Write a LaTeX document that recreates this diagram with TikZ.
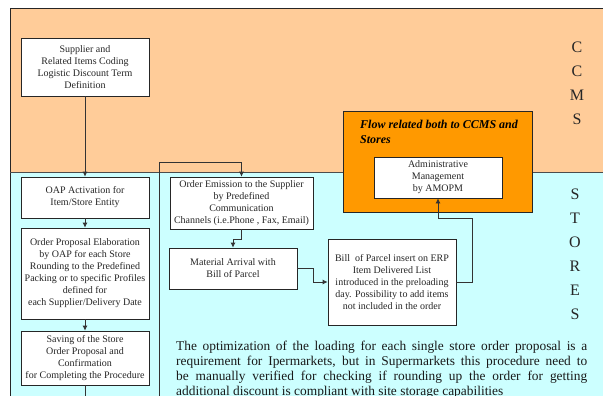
\documentclass[tikz,border=0pt]{standalone}
\usepackage{fontspec}
\setmainfont{Liberation Serif}
\usetikzlibrary{arrows.meta,calc}
\definecolor{ccmsband}{HTML}{FFCC99}
\definecolor{storeband}{HTML}{CCFFFF}
\definecolor{flowbox}{HTML}{FF9900}
\begin{document}
\begin{tikzpicture}[x=1pt,y=-1pt,
  stepbox/.style={draw=black!85,fill=white,line width=0.8pt,align=center,inner sep=1pt,
    minimum width=128pt,font=\fontsize{10}{12}\selectfont,text=black!85},
  link/.style={draw=black!80,line width=0.8pt,-{Latex[length=5pt,width=5pt]}},
  plain/.style={draw=black!80,line width=0.8pt},
  banner/.style={align=center,font=\fontsize{16}{24}\selectfont,text=black!85},
]
\useasboundingbox (0,0) rectangle (603,396);
\clip (0,0) rectangle (603,396);

% two swim lanes
\fill[ccmsband] (10,8) rectangle (620,172);
\fill[storeband] (10,172) rectangle (620,420);
\draw[line width=0.9pt,black!85] (10,420) -- (10,8) -- (620,8);
\draw[line width=0.9pt,black!70] (10,172) -- (620,172);

% lane titles
\node[banner] (ccms) at (577,83) {C\\C\\M\\S};
\node[banner] (stores) at (575,254.5) {S\\T\\O\\R\\E\\S};

% shared flow area
\node[draw=black!85,line width=0.9pt,fill=flowbox,minimum width=189pt,minimum height=101pt,inner sep=0pt]
  (flow) at (437.5,161.5) {};
\node[anchor=north west,align=left,inner sep=0pt,font=\fontsize{12}{15}\selectfont\bfseries\itshape]
  (flowtitle) at (360,119.5) {Flow related both to CCMS and\\Stores};

% process steps
\node[stepbox,minimum height=58pt] (sup) at (85,67)
  {Supplier and\\Related Items Coding\\Logistic Discount Term\\Definition};
\node[stepbox,minimum height=41pt] (oap) at (85,197.5)
  {OAP Activation for\\Item/Store Entity};
\node[stepbox,minimum height=91pt] (prop) at (85,273.5)
  {Order Proposal Elaboration\\by OAP for each Store\\Rounding to the Predefined\\Packing or to specific Profiles\\defined for\\each Supplier/Delivery Date};
\node[stepbox,minimum height=54pt] (save) at (85,358)
  {Saving of the Store\\Order Proposal and\\Confirmation\\for Completing the Procedure};
\node[stepbox,minimum width=143pt,minimum height=52pt] (emis) at (241.5,203)
  {Order Emission to the Supplier\\by Predefined\\Communication\\Channels (i.e.Phone , Fax, Email)};
\node[stepbox,minimum height=41pt] (mat) at (233,268.5)
  {Material Arrival with\\Bill of Parcel};
\node[stepbox,minimum height=86pt] (bill) at (392,282)
  {Bill\ \ of Parcel insert on ERP\\Item Delivered List\\introduced in the preloading\\day. Possibility to add items\\not included in the order};
\node[stepbox,minimum height=41pt] (admin) at (438,177.5)
  {Administrative\\Management\\by AMOPM};

% note
\node[anchor=north west,text width=411pt,align=justify,inner sep=0pt,
  font=\fontsize{13.4}{15}\selectfont,text=black!90] (note) at (176,340.5)
  {The optimization of the loading for each single store order proposal is a\linebreak
   requirement for Ipermarkets, but in Supermarkets this procedure need to\linebreak
   be manually verified for checking if rounding up the order for getting\linebreak
   additional discount is compliant with site storage capabilities};

% connectors
\coordinate (saveout) at (85,420);
\coordinate (loopin) at (159,420);
\coordinate (looptop) at (159,162);
\draw[link] (sup) -- (oap);
\draw[link] (oap) -- (prop);
\draw[link] (prop) -- (save);
\draw[plain] (save) -- (saveout);
\draw[link] (loopin) -- (looptop) -| (emis.north);
\draw[link] (emis.south) -- ++(0,10) -| (mat.north);
\draw[link] (mat.east) -- ++(16,0) |- (bill.west);
\draw[link] (bill.east) -- ++(16,0) |- ($(admin.south)+(0,20)$) -- (admin.south);
\end{tikzpicture}
\end{document}
